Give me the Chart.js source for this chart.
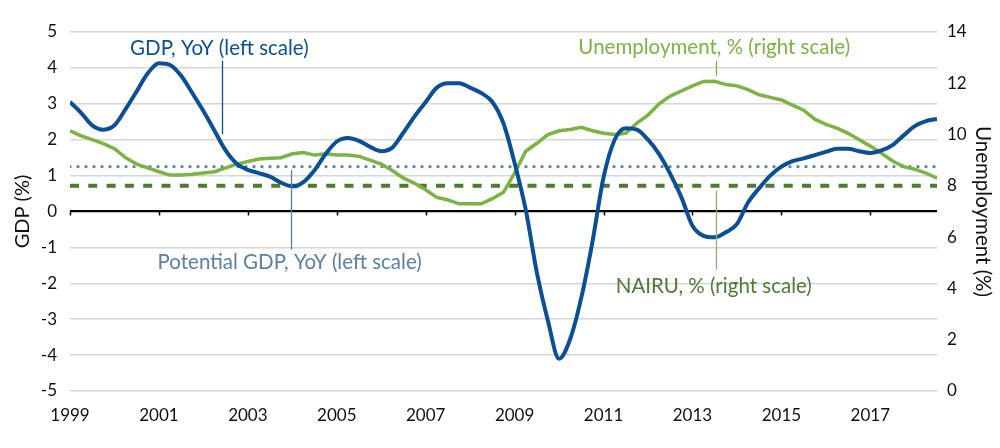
<!DOCTYPE html>
<html>
<head>
<meta charset="utf-8">
<script src="https://cdn.jsdelivr.net/npm/chart.js@4.4.1/dist/chart.umd.min.js"></script>
<style>
  html, body { margin: 0; padding: 0; background: #fff; }
  #wrap { width: 1000px; height: 448px; }
</style>
</head>
<body>
<div id="wrap"><canvas id="myChart" width="1000" height="448"></canvas></div>
<script>
// quarterly readings, first point = 1999 Q1
const startYear = 1999;
const gdpYoY = [
  3.05, 2.75, 2.4, 2.28, 2.4, 2.85, 3.35, 3.85,
  4.13, 4.08, 3.78, 3.3, 2.8, 2.25, 1.7, 1.33,
  1.16, 1.07, 0.97, 0.8, 0.7, 0.82, 1.15, 1.6,
  1.95, 2.05, 1.97, 1.8, 1.68, 1.78, 2.2, 2.65,
  3.05, 3.45, 3.57, 3.57, 3.45, 3.3, 3.05, 2.45,
  1.35, 0.05, -1.7, -3.05, -4.1, -3.55, -2.4, -0.85,
  0.95, 2.0, 2.32, 2.28, 2.0, 1.6, 1.05, 0.4,
  -0.4, -0.68, -0.72, -0.58, -0.35, 0.25, 0.65, 1.0,
  1.25, 1.4, 1.48, 1.57, 1.66, 1.75, 1.75, 1.68,
  1.63, 1.7, 1.85, 2.12, 2.38, 2.52, 2.58
];
const unemployment = [
  10.15, 9.95, 9.8, 9.65, 9.45, 9.1, 8.85, 8.7,
  8.55, 8.42, 8.42, 8.45, 8.5, 8.55, 8.7, 8.85,
  8.95, 9.05, 9.08, 9.1, 9.25, 9.3, 9.2, 9.25,
  9.2, 9.2, 9.15, 9.0, 8.85, 8.6, 8.3, 8.1,
  7.85, 7.55, 7.45, 7.3, 7.3, 7.3, 7.5, 7.75,
  8.5, 9.35, 9.66, 10.0, 10.15, 10.2, 10.28, 10.15,
  10.05, 10.0, 10.05, 10.45, 10.76, 11.2, 11.5, 11.7,
  11.9, 12.07, 12.08, 11.95, 11.9, 11.75, 11.55, 11.45,
  11.35, 11.15, 10.95, 10.6, 10.4, 10.25, 10.05, 9.8,
  9.55, 9.27, 8.97, 8.75, 8.65, 8.5, 8.3
];
const potentialGdp = 1.25;
const nairu = 8.0;
const lineSpan = [1999, 2018.5];
const yearTicks = [1999, 2001, 2003, 2005, 2007, 2009, 2011, 2013, 2015, 2017];
const gdpTicks = [-5, -4, -3, -2, -1, 0, 1, 2, 3, 4, 5];
const unempTicks = [0, 2, 4, 6, 8, 10, 12, 14];

const blue = '#0b4f96';
const green = '#7cb342';
const slate = '#5a80a2';
const darkGreen = '#4f7a32';
const FONT = 'Lato, "Open Sans", sans-serif';

function toPoints(values) {
  return values.map((v, i) => ({ x: startYear + i * 0.25, y: v }));
}

// labels with their leader lines, in data units
const notes = [
  { text: 'GDP, YoY (left scale)', color: blue, x: 2002.36, y: 4.55,
    line: { x: 2002.42, from: 4.2, to: 2.15 }, lineColor: blue },
  { text: 'Unemployment, % (right scale)', color: green, x: 2013.49, y: 4.57,
    line: { x: 2013.53, from: 4.2, to: 3.78 }, lineColor: green },
  { text: 'Potential GDP, YoY (left scale)', color: slate, x: 2003.94, y: -1.43,
    line: { x: 2003.98, from: 1.16, to: -1.06 }, lineColor: slate },
  { text: 'NAIRU, % (right scale)', color: darkGreen, x: 2013.48, y: -2.1,
    line: { x: 2013.53, from: 0.58, to: -1.62 }, lineColor: '#8fae73' }
];

const notesPlugin = {
  id: 'notes',
  afterDatasetsDraw(chart) {
    const ctx = chart.ctx;
    const xs = chart.scales.x;
    const ys = chart.scales.y;
    ctx.save();
    notes.forEach(n => {
      const lx = Math.round(xs.getPixelForValue(n.line.x)) + 0.5;
      ctx.strokeStyle = n.lineColor;
      ctx.lineWidth = 1.3;
      ctx.beginPath();
      ctx.moveTo(lx, ys.getPixelForValue(n.line.from));
      ctx.lineTo(lx, ys.getPixelForValue(n.line.to));
      ctx.stroke();
      ctx.fillStyle = n.color;
      ctx.font = '20.5px ' + FONT;
      ctx.textAlign = 'center';
      ctx.textBaseline = 'middle';
      ctx.fillText(n.text, xs.getPixelForValue(n.x), ys.getPixelForValue(n.y));
    });
    ctx.restore();
  },
  beforeDatasetsDraw(chart) {
    // small tick marks under the zero line
    const ctx = chart.ctx;
    const xs = chart.scales.x;
    const y0 = chart.scales.y.getPixelForValue(0);
    ctx.save();
    ctx.strokeStyle = '#000';
    ctx.lineWidth = 1.5;
    yearTicks.forEach(t => {
      const px = Math.round(xs.getPixelForValue(t)) + 0.5;
      ctx.beginPath();
      ctx.moveTo(px, y0);
      ctx.lineTo(px, y0 + 4);
      ctx.stroke();
    });
    ctx.restore();
  }
};

const ctx = document.getElementById('myChart').getContext('2d');
new Chart(ctx, {
  type: 'line',
  data: {
    datasets: [
      {
        label: 'GDP, YoY',
        data: toPoints(gdpYoY),
        yAxisID: 'y',
        borderColor: blue,
        borderWidth: 4,
        cubicInterpolationMode: 'monotone',
        pointRadius: 0
      },
      {
        label: 'Unemployment',
        data: toPoints(unemployment),
        yAxisID: 'y2',
        borderColor: green,
        borderWidth: 3.5,
        tension: 0,
        pointRadius: 0
      },
      {
        label: 'Potential GDP',
        data: lineSpan.map(x => ({ x: x, y: potentialGdp })),
        yAxisID: 'y',
        borderColor: slate,
        borderWidth: 3.2,
        borderDash: [0, 8],
        borderCapStyle: 'round',
        pointRadius: 0
      },
      {
        label: 'NAIRU',
        data: lineSpan.map(x => ({ x: x, y: nairu })),
        yAxisID: 'y2',
        borderColor: darkGreen,
        borderWidth: 4,
        borderDash: [9, 9.3],
        pointRadius: 0
      }
    ]
  },
  options: {
    responsive: false,
    animation: false,
    events: [],
    layout: { padding: { top: 32, left: 0, right: 0, bottom: 0 } },
    plugins: {
      legend: { display: false },
      tooltip: { enabled: false }
    },
    scales: {
      x: {
        type: 'linear',
        min: 1999,
        max: 2018.5,
        afterBuildTicks: s => { s.ticks = yearTicks.map(v => ({ value: v })); },
        afterFit: s => { s.height = 57; },
        border: { display: false },
        grid: { display: false, drawTicks: false },
        ticks: {
          color: '#111',
          font: { family: FONT, size: 17 },
          padding: 14,
          maxRotation: 0,
          autoSkip: false,
          callback: v => String(v)
        }
      },
      y: {
        position: 'left',
        min: -5,
        max: 5,
        afterBuildTicks: s => { s.ticks = gdpTicks.map(v => ({ value: v })); },
        afterFit: s => { s.width = 70; },
        border: { display: false },
        grid: {
          drawTicks: false,
          color: c => c.tick && c.tick.value === 0 ? '#000' : '#d6d6d6',
          lineWidth: c => c.tick && c.tick.value === 0 ? 2.2 : 1.5
        },
        ticks: {
          color: '#111',
          font: { family: FONT, size: 17 },
          padding: 13
        },
        title: {
          display: true,
          text: 'GDP (%)',
          color: '#111',
          font: { family: FONT, size: 20 },
          padding: { top: 11, bottom: 0 }
        }
      },
      y2: {
        position: 'right',
        min: 0,
        max: 14,
        afterBuildTicks: s => { s.ticks = unempTicks.map(v => ({ value: v })); },
        afterFit: s => { s.width = 63; },
        border: { display: false },
        grid: { display: false, drawTicks: false },
        ticks: {
          color: '#111',
          font: { family: FONT, size: 17 },
          padding: 10
        },
        title: {
          display: true,
          text: 'Unemployment (%)',
          color: '#111',
          font: { family: FONT, size: 20.5 },
          padding: { top: 5, bottom: 0 }
        }
      }
    }
  },
  plugins: [notesPlugin]
});
</script>
</body>
</html>
